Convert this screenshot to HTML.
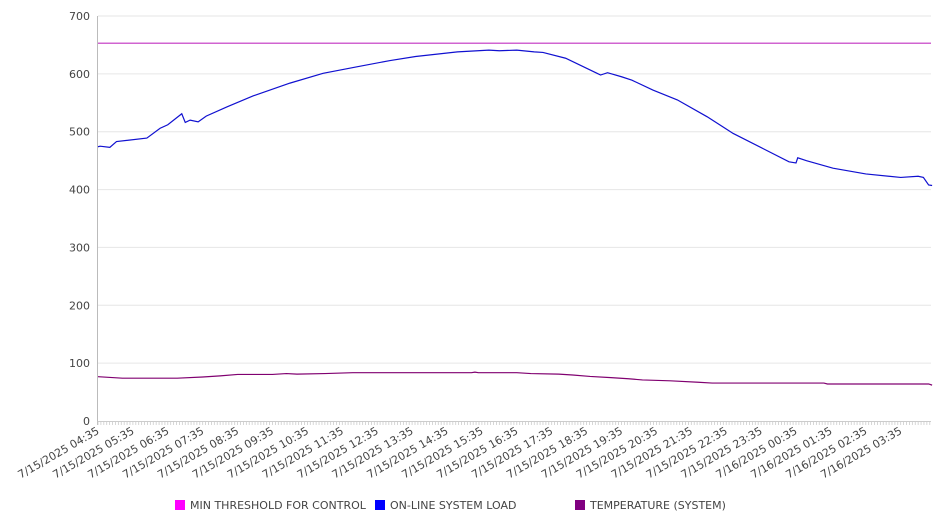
<!DOCTYPE html>
<html><head><meta charset="utf-8"><style>
body{margin:0;background:#fff;}
svg{display:block;font-family:"DejaVu Sans","Liberation Sans",sans-serif;}
</style></head><body>
<svg id="chart" width="946" height="526" xmlns="http://www.w3.org/2000/svg"></svg>
<script>
const yTicks=[0,100,200,300,400,500,600,700];
const xLabels=["7/15/2025 04:35","7/15/2025 05:35","7/15/2025 06:35","7/15/2025 07:35","7/15/2025 08:35","7/15/2025 09:35","7/15/2025 10:35","7/15/2025 11:35","7/15/2025 12:35","7/15/2025 13:35","7/15/2025 14:35","7/15/2025 15:35","7/15/2025 16:35","7/15/2025 17:35","7/15/2025 18:35","7/15/2025 19:35","7/15/2025 20:35","7/15/2025 21:35","7/15/2025 22:35","7/15/2025 23:35","7/16/2025 00:35","7/16/2025 01:35","7/16/2025 02:35","7/16/2025 03:35"];
const thresholdValue=653;
const loadHours=[0,0.06,0.34,0.53,1.4,1.78,2.0,2.4,2.5,2.64,2.87,3.1,3.7,4.45,5.5,6.45,7.4,8.37,9.1,10.3,11.2,11.5,12.0,12.5,12.75,13.4,14.3,14.4,14.6,15.0,15.3,15.9,16.6,17.45,18.2,19.05,19.8,20.0,20.05,20.3,21.06,22.0,23.0,23.5,23.65,23.8,23.9];
const loadValues=[474,475,473,483,489,506,512,531,516,520,517,527,543,562,584,601,612,623,630,638,641,640,641,638,637,627,601,598,602,595,589,572,555,526,497,471,448,446,455,450,437,427,421,423,421,408,407];
const tempHours=[0,0.7,2.27,3.0,3.5,4.0,5.0,5.4,5.7,6.5,7.3,10.7,10.8,10.9,12.0,12.4,13.2,13.6,14.1,14.7,15.2,15.6,16.4,17.2,17.6,20.8,20.9,23.8,23.9];
const tempValues=[76.6,74,74,76,78,80.5,80.5,82,81,82,83.5,83.5,84.5,83.5,83.5,82,81,79.5,77,75,73,71,69.5,67,65.6,65.6,64,64,62];

const NS="http://www.w3.org/2000/svg";
const svg=document.getElementById('chart');
const X0=98,X1=931,Y0=421,Y1=16,HOURW=34.9;
const xs=h=>X0+h*HOURW;
const ys=v=>Y0-(v/700)*(Y0-Y1);
function mk(t,a){const e=document.createElementNS(NS,t);for(const k in a)e.setAttribute(k,a[k]);svg.appendChild(e);return e;}

yTicks.forEach(v=>{
  if(v>0){const g=mk('line',{x1:X0,x2:X1,y1:ys(v),y2:ys(v),stroke:'#e6e6e6','stroke-width':1});
  
  }
  const t=mk('text',{x:90,y:ys(v)+4,'text-anchor':'end','font-size':11,fill:'#444'});
  t.textContent=v;
  
  
});
const ax=mk('line',{x1:X0-0.5,x2:X0-0.5,y1:Y1,y2:Y0+4,stroke:'#bbb'});


const bx=mk('line',{x1:X0,x2:X1,y1:Y0+0.5,y2:Y0+0.5,stroke:'#ccc'});


for(let m=0;m<=24*12-2;m++){
  const x=X0+m*HOURW/12;
  const tk=mk('line',{x1:x,x2:x,y1:Y0,y2:Y0+4,stroke:'#ccc','stroke-width':0.8});
  
  
}
xLabels.forEach((l,i)=>{
  const x=xs(i)+2,y=Y0+12;
  const t=mk('text',{x:x,y:y,'text-anchor':'end','font-size':11,fill:'#444',transform:`rotate(-30 ${x} ${y})`});
  t.textContent=l;
  
  
});
const th=mk('line',{x1:X0,x2:X1,y1:ys(thresholdValue),y2:ys(thresholdValue),stroke:'#c030c0','stroke-width':1.2});


function poly(hs,vs,color,name){
  const p=mk('polyline',{points:hs.map((h,i)=>xs(h)+','+ys(vs[i])).join(' '),fill:'none',stroke:color,'stroke-width':1.2});
  
  
}
poly(loadHours,loadValues,'#1010d0','online-system-load-line');
poly(tempHours,tempValues,'#800070','temperature-line');

const legend=[['MIN THRESHOLD FOR CONTROL','#ff00ff',175],['ON-LINE SYSTEM LOAD','#0000ff',375],['TEMPERATURE (SYSTEM)','#800080',575]];
legend.forEach(l=>{
  const r=mk('rect',{x:l[2],y:500,width:10,height:10,fill:l[1]});
  
  
  const t=mk('text',{x:l[2]+15,y:509,'font-size':11,fill:'#444'});
  t.textContent=l[0];
  
  
});
</script>
</body></html>
